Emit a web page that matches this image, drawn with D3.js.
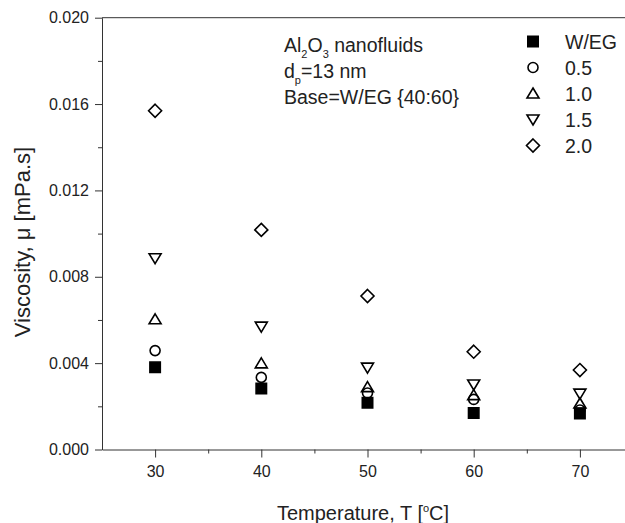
<!DOCTYPE html>
<html>
<head>
<meta charset="utf-8">
<script src="https://cdn.jsdelivr.net/npm/d3@7"></script>
<style>
  body { margin: 0; background: #fff; }
  svg { font-family: "Liberation Sans", Arial, sans-serif; }
  .axis text { font-size: 16px; fill: #222; }
  .axis path, .axis line { stroke: #333; stroke-width: 1; }
</style>
</head>
<body>
<script>
// temperatures (x) and viscosity series (y)
var temps = [30, 40, 50, 60, 70];
var baseWEG = [0.00381, 0.00283, 0.00217, 0.00169, 0.00167];
var phi05 = [0.00458, 0.00334, 0.00262, 0.00232, 0.00183];
var phi10 = [0.00603, 0.00399, 0.00289, 0.00252, 0.00213];
var phi15 = [0.00886, 0.00569, 0.00379, 0.00301, 0.00259];
var phi20 = [0.01569, 0.01017, 0.00711, 0.00453, 0.00368];
var seriesNames = ["W/EG", "0.5", "1.0", "1.5", "2.0"];
var xTicks = [30, 40, 50, 60, 70];
var yTicks = [0, 0.004, 0.008, 0.012, 0.016, 0.02];

var series = [baseWEG, phi05, phi10, phi15, phi20];
var shapes = ["square", "circle", "up", "down", "diamond"];

var W = 625, H = 523;
var svg = d3.select("body").append("svg").attr("width", W).attr("height", H);

var x = d3.scaleLinear().domain([25, 75]).range([102, 633]);
var y = d3.scaleLinear().domain([0, 0.02]).range([449.5, 17.7]);

// marker path builder
function marker(type) {
  var p = d3.path();
  if (type == "square") { p.rect(-5.2, -5.2, 10.4, 10.4); }
  else if (type == "circle") { p.arc(0, 0, 5, 0, 2 * Math.PI); }
  else if (type == "up") { p.moveTo(0, -5.5); p.lineTo(6, 4.5); p.lineTo(-6, 4.5); p.closePath(); }
  else if (type == "down") { p.moveTo(0, 5.5); p.lineTo(6, -4.5); p.lineTo(-6, -4.5); p.closePath(); }
  else { p.moveTo(0, -6.5); p.lineTo(6.5, 0); p.lineTo(0, 6.5); p.lineTo(-6.5, 0); p.closePath(); }
  return p.toString();
}

// x axis
svg.append("g").attr("class", "axis")
  .attr("transform", "translate(0," + y(0) + ")")
  .call(d3.axisBottom(x).tickValues(xTicks).tickSize(8).tickSizeOuter(0).tickPadding(8));
svg.append("g").attr("class", "axis")
  .attr("transform", "translate(0," + y(0) + ")")
  .call(d3.axisBottom(x).tickValues([35, 45, 55, 65]).tickSize(4).tickFormat(""))
  .select(".domain").remove();

// y axis
svg.append("g").attr("class", "axis")
  .attr("transform", "translate(" + x(25) + ",0)")
  .call(d3.axisLeft(y).tickValues(yTicks).tickSize(7).tickSizeOuter(0).tickPadding(6).tickFormat(d3.format(".3f")));
svg.append("g").attr("class", "axis")
  .attr("transform", "translate(" + x(25) + ",0)")
  .call(d3.axisLeft(y).tickValues([0.002, 0.006, 0.010, 0.014, 0.018]).tickSize(4).tickFormat(""))
  .select(".domain").remove();

// top and right frame
svg.append("line").attr("x1", x(25)).attr("x2", x(75)).attr("y1", y(0.02)).attr("y2", y(0.02))
  .attr("stroke", "#333");
svg.append("line").attr("x1", x(75)).attr("x2", x(75)).attr("y1", y(0.02)).attr("y2", y(0))
  .attr("stroke", "#333");

// axis titles
var xt = svg.append("text").attr("x", 363).attr("y", 520).attr("text-anchor", "middle")
  .style("font-size", "20px").attr("fill", "#222");
xt.append("tspan").text("Temperature, T [");
xt.append("tspan").text("o").style("font-size", "11px").attr("dy", -8);
xt.append("tspan").text("C]").attr("dy", 8);

svg.append("text").attr("transform", "translate(30,242) rotate(-90)")
  .attr("text-anchor", "middle").style("font-size", "22px").attr("fill", "#222")
  .text("Viscosity, \u03bc [mPa.s]");

// points
series.forEach(function(vals, i) {
  svg.append("g").selectAll("path").data(vals).enter().append("path")
    .attr("d", marker(shapes[i]))
    .attr("transform", function(d, j) { return "translate(" + x(temps[j]) + "," + y(d) + ")"; })
    .attr("fill", shapes[i] == "square" ? "#000" : "none")
    .attr("stroke", "#000").attr("stroke-width", 1.6);
});

// annotation
var ann = svg.append("g").style("font-size", "19.5px").attr("fill", "#222");
var l1 = ann.append("text").attr("x", 284).attr("y", 52);
l1.append("tspan").text("Al");
l1.append("tspan").text("2").style("font-size", "11px").attr("dy", 6);
l1.append("tspan").text("O").attr("dy", -6);
l1.append("tspan").text("3").style("font-size", "11px").attr("dy", 6);
l1.append("tspan").text(" nanofluids").attr("dy", -6);
var l2 = ann.append("text").attr("x", 284).attr("y", 78);
l2.append("tspan").text("d");
l2.append("tspan").text("p").style("font-size", "11px").attr("dy", 6);
l2.append("tspan").text("=13 nm").attr("dy", -6);
ann.append("text").attr("x", 284).attr("y", 104).text("Base=W/EG {40:60}");

// legend
var leg = svg.append("g").selectAll("g").data(seriesNames).enter().append("g")
  .attr("transform", function(d, i) { return "translate(533," + (41.5 + i * 26) + ")"; });
leg.append("path").attr("d", function(d, i) { return marker(shapes[i]); })
  .attr("fill", function(d, i) { return shapes[i] == "square" ? "#000" : "none"; })
  .attr("stroke", "#000").attr("stroke-width", 1.6);
leg.append("text").attr("x", 32).attr("y", 7).style("font-size", "19.5px").attr("fill", "#222")
  .text(function(d) { return d; });
</script>
</body>
</html>
